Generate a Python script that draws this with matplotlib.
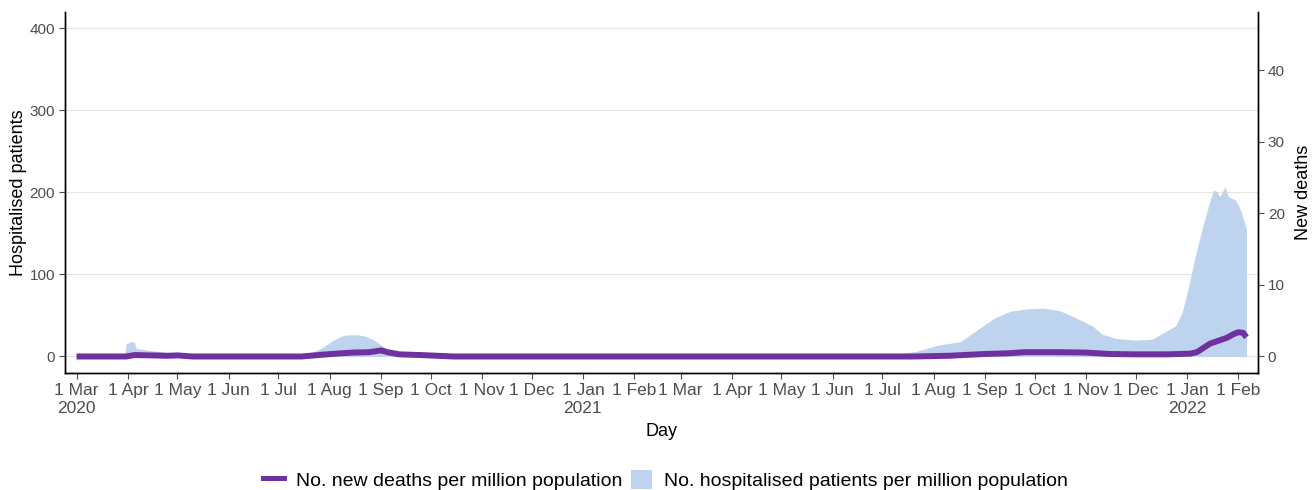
import matplotlib
matplotlib.use("Agg")
import matplotlib.pyplot as plt
import pandas as pd
from matplotlib.lines import Line2D
from matplotlib.patches import Patch

plt.rcParams["font.family"] = ["Liberation Sans", "DejaVu Sans"]

# hospitalised patients per million
HOSP_DATES = [
    "2020-03-01", "2020-03-30", "2020-03-31", "2020-04-02", "2020-04-03", "2020-04-05",
    "2020-04-06", "2020-04-12", "2020-04-20", "2020-04-28", "2020-05-05", "2020-05-12",
    "2020-05-20", "2020-07-10", "2020-07-20", "2020-07-27", "2020-08-01", "2020-08-06",
    "2020-08-10", "2020-08-17", "2020-08-22", "2020-08-27", "2020-09-01", "2020-09-06",
    "2020-09-12", "2020-09-20", "2021-06-25", "2021-07-09", "2021-07-21", "2021-08-04",
    "2021-08-17", "2021-08-27", "2021-09-06", "2021-09-16", "2021-09-26", "2021-10-06",
    "2021-10-16", "2021-10-26", "2021-11-05", "2021-11-11", "2021-11-19", "2021-12-01",
    "2021-12-11", "2021-12-17", "2021-12-25", "2021-12-29", "2022-01-02", "2022-01-06",
    "2022-01-10", "2022-01-14", "2022-01-17", "2022-01-19", "2022-01-21", "2022-01-24",
    "2022-01-26", "2022-01-30", "2022-02-01", "2022-02-03", "2022-02-06",
]
HOSP_VALUES = [
    0, 0, 16, 17, 18.5, 17,
    10, 8, 6, 3.5, 1.5, 0.5,
    0, 0, 4, 10, 17, 23,
    26, 26.5, 25, 21, 14, 7,
    2, 0, 0, 3, 6, 14,
    18, 32, 46, 55, 58, 59,
    56, 47, 37, 27, 22, 20,
    21, 28, 37, 53, 85, 122,
    154, 183, 203, 201, 195, 207,
    195, 191, 185, 175, 155,
]

# new deaths per million (right axis)
DEATH_DATES = [
    "2020-03-01", "2020-03-31", "2020-04-05", "2020-04-15", "2020-04-25", "2020-05-01",
    "2020-05-10", "2020-07-15", "2020-07-25", "2020-08-05", "2020-08-15", "2020-08-25",
    "2020-09-01", "2020-09-05", "2020-09-12", "2020-09-25", "2020-10-05", "2020-10-15",
    "2021-07-20", "2021-08-10", "2021-09-01", "2021-09-15", "2021-09-25", "2021-10-15",
    "2021-11-01", "2021-11-15", "2021-12-01", "2021-12-20", "2022-01-03", "2022-01-07",
    "2022-01-11", "2022-01-15", "2022-01-20", "2022-01-25", "2022-01-29", "2022-02-01",
    "2022-02-04", "2022-02-06",
]
DEATH_VALUES = [
    0, 0, 0.2, 0.15, 0.1, 0.15,
    0, 0, 0.2, 0.4, 0.55, 0.6,
    0.85, 0.6, 0.3, 0.2, 0.1, 0,
    0, 0.1, 0.35, 0.45, 0.6, 0.6,
    0.55, 0.35, 0.3, 0.3, 0.4, 0.6,
    1.2, 1.8, 2.2, 2.6, 3.1, 3.4,
    3.3, 2.7,
]

HOSP_TICKS = [0, 100, 200, 300, 400]
DEATH_TICKS = [0, 10, 20, 30, 40]
SCALE = 8.72  # hospitalised units per death unit on the shared frame

PURPLE = "#7030A0"
LIGHT_BLUE = "#BED3EE"
TICK_GREY = "#4D4D4D"

hosp_x = pd.to_datetime(HOSP_DATES)
death_x = pd.to_datetime(DEATH_DATES)

fig = plt.figure(figsize=(13.15, 4.9), dpi=100)
ax = fig.add_axes([0.0494, 0.239, 0.9073, 0.7365])
ax2 = ax.twinx()

ax.fill_between(hosp_x, 0, HOSP_VALUES, color=LIGHT_BLUE, linewidth=0, zorder=2)
ax2.plot(death_x, DEATH_VALUES, color=PURPLE, linewidth=4.3, solid_capstyle="butt", zorder=3)

ax.set_ylim(-20, 420)
ax2.set_ylim(-20 / SCALE, 420 / SCALE)
ax.set_yticks(HOSP_TICKS)
ax2.set_yticks(DEATH_TICKS)
ax.set_xlim(pd.Timestamp("2020-02-23"), pd.Timestamp("2022-02-13"))

ax.yaxis.grid(True, color="#E5E5E5", linewidth=0.8, zorder=0)
ax.set_axisbelow(True)

# monthly ticks, year under March 2020 and each January
months = pd.date_range("2020-03-01", "2022-02-01", freq="MS")
labels = []
for d in months:
    lab = f"1 {d.strftime('%b')}"
    if d == months[0] or d.month == 1:
        lab += f"\n{d.year}"
    labels.append(lab)
ax.set_xticks(months)
ax.set_xticklabels(labels, linespacing=1.25)

for a in (ax, ax2):
    a.tick_params(colors=TICK_GREY, length=4, width=0.8, pad=3)
    a.tick_params(axis="y", labelsize=11)
    a.spines["top"].set_visible(False)
    for side in ("left", "right", "bottom"):
        a.spines[side].set_color("black")
        a.spines[side].set_linewidth(1.0)
ax.tick_params(axis="x", labelsize=12.5)

ax.set_xlabel("Day", fontsize=13, labelpad=5)
ax.set_ylabel("Hospitalised patients", fontsize=13, labelpad=2)
ax2.set_ylabel("New deaths", fontsize=13, labelpad=7)

handles = [
    Line2D([0], [0], color=PURPLE, linewidth=3.6),
    Patch(facecolor=LIGHT_BLUE, edgecolor="none"),
]
fig.legend(
    handles,
    ["No. new deaths per million population", "No. hospitalised patients per million population"],
    loc="center",
    bbox_to_anchor=(0.506, 0.02),
    ncol=2,
    frameon=False,
    fontsize=14,
    handlelength=1.1,
    handleheight=1.15,
    columnspacing=0.45,
    handletextpad=0.6,
)

fig.savefig("out.png", dpi=100)
